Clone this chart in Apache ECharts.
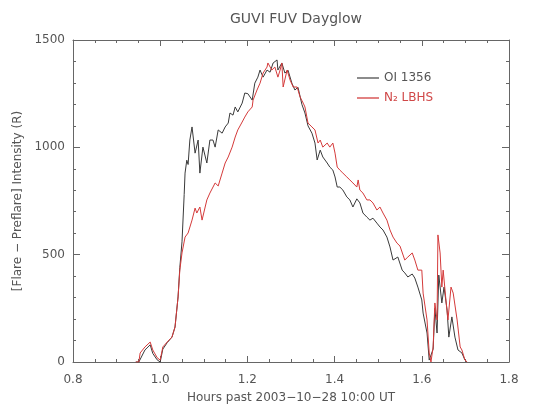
<!DOCTYPE html>
<html>
<head>
<meta charset="utf-8">
<script src="https://cdn.jsdelivr.net/npm/echarts@6/dist/echarts.min.js"></script>
<style>html,body{margin:0;padding:0;background:#fff;}#c{width:533px;height:414px;}</style>
</head>
<body>
<div id="c"></div>
<script>
// ---- data ----
const xTicks = [0.8, 1.0, 1.2, 1.4, 1.6, 1.8];
const yTicks = [0, 500, 1000, 1500];
const seriesNames = ["OI 1356", "N\u2082 LBHS"];

const oiTime = [0.944,0.951,0.965,0.977,0.983,0.993,1.000,1.006,1.016,1.027,1.034,1.041,1.045,1.050,1.055,1.057,1.061,1.064,1.068,1.073,1.080,1.087,1.091,1.098,1.107,1.114,1.121,1.126,1.133,1.142,1.149,1.156,1.160,1.167,1.172,1.178,1.188,1.194,1.201,1.211,1.217,1.224,1.229,1.236,1.245,1.252,1.259,1.268,1.270,1.279,1.286,1.293,1.302,1.309,1.316,1.325,1.332,1.339,1.348,1.355,1.360,1.367,1.373,1.383,1.389,1.396,1.401,1.406,1.412,1.419,1.428,1.435,1.442,1.451,1.458,1.465,1.474,1.481,1.488,1.497,1.504,1.511,1.520,1.527,1.534,1.545,1.555,1.561,1.568,1.578,1.584,1.591,1.600,1.603,1.612,1.617,1.619,1.626,1.630,1.635,1.639,1.646,1.651,1.658,1.662,1.669,1.676,1.683,1.692,1.699,1.704];
const oiValues = [0,0,56,80,40,10,0,60,90,116,163,303,440,560,780,880,940,920,1034,1095,973,1034,880,1001,927,1034,1034,1001,1081,1066,1095,1113,1160,1150,1188,1165,1206,1253,1250,1220,1299,1327,1360,1327,1360,1350,1393,1407,1360,1393,1346,1360,1299,1267,1280,1200,1160,1100,1066,1020,941,987,955,927,908,894,862,815,815,801,769,755,722,760,741,694,675,661,670,647,629,615,582,536,475,489,428,415,396,410,391,349,289,228,135,9,0,60,250,135,405,275,349,242,116,210,116,56,42,9,0];

const n2Time = [0.944,0.951,0.954,0.965,0.977,0.983,0.993,1.000,1.006,1.016,1.027,1.034,1.041,1.045,1.050,1.057,1.064,1.073,1.080,1.084,1.091,1.096,1.107,1.114,1.126,1.133,1.142,1.149,1.156,1.165,1.172,1.178,1.188,1.194,1.201,1.211,1.213,1.222,1.229,1.236,1.245,1.247,1.256,1.263,1.270,1.275,1.279,1.282,1.291,1.298,1.305,1.314,1.321,1.328,1.332,1.339,1.348,1.355,1.362,1.367,1.373,1.383,1.389,1.396,1.401,1.406,1.412,1.419,1.428,1.435,1.442,1.451,1.454,1.458,1.465,1.474,1.481,1.488,1.497,1.504,1.511,1.520,1.527,1.534,1.543,1.550,1.561,1.568,1.578,1.584,1.591,1.600,1.603,1.612,1.617,1.621,1.626,1.630,1.635,1.637,1.642,1.646,1.649,1.656,1.660,1.667,1.672,1.681,1.688,1.692,1.699,1.704];
const n2Values = [0,0,42,70,93,56,20,9,70,93,116,163,303,428,508,582,601,661,717,694,722,661,755,787,834,820,880,927,955,1001,1048,1081,1118,1141,1165,1188,1220,1267,1299,1346,1374,1393,1360,1374,1327,1360,1393,1281,1360,1313,1281,1281,1234,1206,1188,1113,1095,1081,1020,1034,1001,1020,1001,1020,973,908,894,880,862,848,834,815,848,801,787,755,755,741,708,722,694,661,615,582,554,540,475,489,508,475,428,428,321,196,42,0,70,275,196,592,508,349,428,275,196,349,321,196,70,56,9,0];

// ---- chart ----
const pair = (t, v) => t.map((x, i) => [x, v[i]]);
const axisCol = '#666';
const txtCol = '#555';
const font = 'DejaVu Sans';

function xAxisDef(pos, showLabels) {
  return {
    type: 'value', position: pos, min: xTicks[0], max: xTicks[xTicks.length - 1], interval: 0.2,
    name: showLabels ? 'Hours past 2003\u221210\u221228 10:00 UT' : '',
    nameLocation: 'middle', nameGap: 30,
    nameTextStyle: { color: txtCol, fontSize: 12, fontFamily: font },
    axisLine: { show: true, onZero: false, lineStyle: { color: axisCol, width: 1 } },
    axisTick: { show: true, inside: true, length: 6, lineStyle: { color: axisCol } },
    minorTick: { show: true, splitNumber: 4, length: 3, lineStyle: { color: axisCol } },
    axisLabel: { show: showLabels, color: txtCol, fontSize: 12, fontFamily: font, margin: 12,
      formatter: v => v.toFixed(1) },
    splitLine: { show: false }
  };
}
function yAxisDef(pos, showLabels) {
  return {
    type: 'value', position: pos, min: yTicks[0], max: yTicks[yTicks.length - 1], interval: 500,
    name: showLabels ? '[Flare \u2212 Preflare] Intensity (R)' : '',
    nameLocation: 'middle', nameGap: 46,
    nameTextStyle: { color: txtCol, fontSize: 12, fontFamily: font },
    axisLine: { show: true, onZero: false, lineStyle: { color: axisCol, width: 1 } },
    axisTick: { show: true, inside: true, length: 7, lineStyle: { color: axisCol } },
    minorTick: { show: true, splitNumber: 5, length: 3, lineStyle: { color: axisCol } },
    axisLabel: { show: showLabels, color: txtCol, fontSize: 12, fontFamily: font, margin: 8,
      formatter: v => String(Math.round(v)) },
    splitLine: { show: false }
  };
}

const chart = echarts.init(document.getElementById('c'), null, { renderer: 'canvas' });
chart.setOption({
  animation: false,
  backgroundColor: '#fff',
  title: {
    text: 'GUVI FUV Dayglow', left: 291, top: 7, textAlign: 'center',
    textStyle: { color: txtCol, fontSize: 14, fontWeight: 'normal', fontFamily: font }
  },
  grid: { left: 73, right: 24, top: 40, bottom: 52 },
  xAxis: [xAxisDef('bottom', true), xAxisDef('top', false)],
  yAxis: [yAxisDef('left', true), yAxisDef('right', false)],
  legend: {
    orient: 'vertical', left: 352, top: 67, itemGap: 8,
    itemWidth: 22, itemHeight: 1.5, icon: 'rect',
    textStyle: { fontSize: 12, fontFamily: font },
    data: [
      { name: seriesNames[0], textStyle: { color: '#555' } },
      { name: seriesNames[1], textStyle: { color: '#d04848' } }
    ]
  },
  series: [
    { name: seriesNames[0], type: 'line', xAxisIndex: 0, yAxisIndex: 0, data: pair(oiTime, oiValues),
      showSymbol: false, symbol: 'none', lineStyle: { color: '#3a3a3a', width: 1 }, itemStyle: { color: '#666' }, z: 2 },
    { name: seriesNames[1], type: 'line', xAxisIndex: 0, yAxisIndex: 0, data: pair(n2Time, n2Values),
      showSymbol: false, symbol: 'none', lineStyle: { color: '#d43a3a', width: 1 }, itemStyle: { color: '#d85858' }, z: 3 }
  ]
});
</script>
</body>
</html>
